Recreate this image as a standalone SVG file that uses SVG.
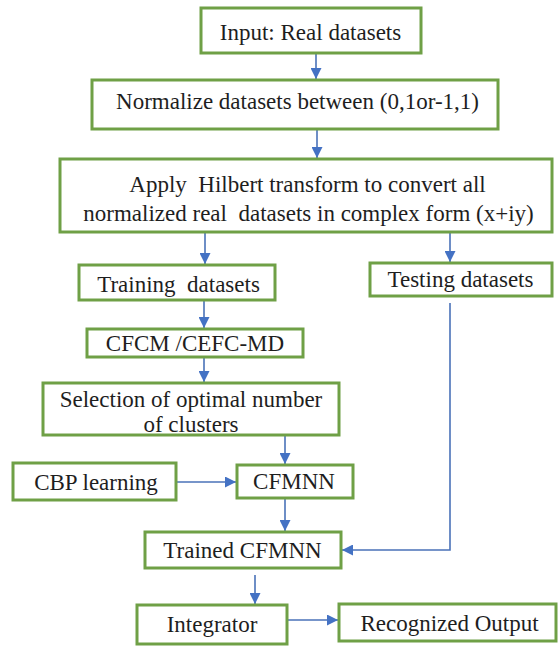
<svg xmlns="http://www.w3.org/2000/svg" width="558" height="646" viewBox="0 0 558 646">
<defs>
<style>
.box{fill:#fff;stroke:#6fa046;stroke-width:3}
.t{font-family:"Liberation Serif","Times New Roman",serif;font-size:23px;fill:#1e1e1e;text-anchor:middle;white-space:pre}
.c{stroke:#4a72b8;stroke-width:1.6;fill:none}
</style>
<marker id="ah" viewBox="0 0 10 10" refX="10" refY="5" markerWidth="11" markerHeight="11" orient="auto" markerUnits="userSpaceOnUse">
<path d="M0,0 L10,5 L0,10 z" fill="#4472c4"/>
</marker>
</defs>
<rect width="558" height="646" fill="#fff"/>
<g id="connectors">
<line class="c" x1="316" y1="54" x2="316" y2="79" marker-end="url(#ah)"/>
<line class="c" x1="317" y1="130" x2="317" y2="158" marker-end="url(#ah)"/>
<line class="c" x1="205" y1="233" x2="205" y2="264" marker-end="url(#ah)"/>
<line class="c" x1="450" y1="233" x2="450" y2="262" marker-end="url(#ah)"/>
<line class="c" x1="204" y1="301" x2="204" y2="328" marker-end="url(#ah)"/>
<line class="c" x1="204" y1="358" x2="204" y2="382" marker-end="url(#ah)"/>
<line class="c" x1="285" y1="436" x2="285" y2="464" marker-end="url(#ah)"/>
<line class="c" x1="177" y1="482" x2="236" y2="482" marker-end="url(#ah)"/>
<line class="c" x1="285" y1="499" x2="285" y2="531" marker-end="url(#ah)"/>
<polyline class="c" points="450,303 450,550 342,550" marker-end="url(#ah)"/>
<line class="c" x1="255" y1="575" x2="255" y2="604" marker-end="url(#ah)"/>
<line class="c" x1="288" y1="620" x2="338" y2="620" marker-end="url(#ah)"/>
</g>
<g id="input"><rect class="box" x="201" y="8" width="220" height="45"/><text class="t" x="310.5" y="40">Input: Real datasets</text></g>
<g id="normalize"><rect class="box" x="92" y="80" width="406" height="49"/><text class="t" x="297.5" y="109">Normalize datasets between (0,1or-1,1)</text></g>
<g id="hilbert"><rect class="box" x="60" y="159" width="492" height="73"/><text class="t" x="307.5" y="192">Apply  Hilbert transform to convert all</text><text class="t" x="308.5" y="221">normalized real  datasets in complex form (x+iy)</text></g>
<g id="training"><rect class="box" x="79" y="265" width="196" height="35"/><text class="t" x="178.5" y="292">Training  datasets</text></g>
<g id="testing"><rect class="box" x="370" y="263" width="182" height="33"/><text class="t" x="460.5" y="287">Testing datasets</text></g>
<g id="cfcm"><rect class="box" x="87" y="329" width="216" height="28"/><text class="t" x="195" y="351">CFCM /CEFC-MD</text></g>
<g id="selection"><rect class="box" x="43" y="383" width="296" height="52"/><text class="t" x="191" y="407">Selection of optimal number</text><text class="t" x="191" y="432">of clusters</text></g>
<g id="cbp"><rect class="box" x="13" y="463" width="163" height="37"/><text class="t" x="96" y="490">CBP learning</text></g>
<g id="cfmnn"><rect class="box" x="237" y="465" width="116" height="33"/><text class="t" x="294" y="489">CFMNN</text></g>
<g id="trained"><rect class="box" x="145" y="532" width="196" height="36"/><text class="t" x="242.5" y="558">Trained CFMNN</text></g>
<g id="integrator"><rect class="box" x="137" y="605" width="150" height="39"/><text class="t" x="212" y="632">Integrator</text></g>
<g id="output"><rect class="box" x="339" y="604" width="217" height="37"/><text class="t" x="449.5" y="631">Recognized Output</text></g>
</svg>
